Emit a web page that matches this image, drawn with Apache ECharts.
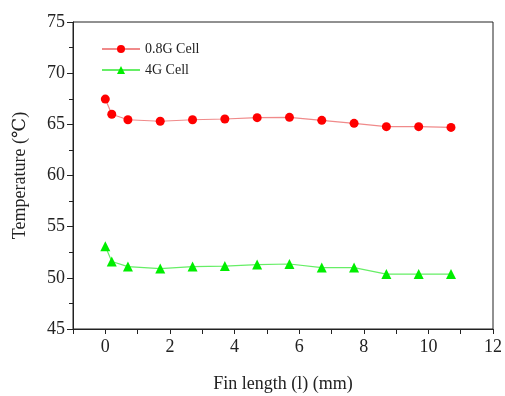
<!DOCTYPE html>
<html>
<head>
<meta charset="utf-8">
<script src="https://cdn.jsdelivr.net/npm/echarts@6/dist/echarts.min.js"></script>
<style>
  html, body { margin: 0; padding: 0; background: #fff; }
  #chart { width: 505px; height: 396px; }
</style>
</head>
<body>
<div id="chart"></div>
<script>
  const finLength = [0, 0.2, 0.7, 1.7, 2.7, 3.7, 4.7, 5.7, 6.7, 7.7, 8.7, 9.7, 10.7];
  const cell08G = [67.47, 65.98, 65.45, 65.3, 65.45, 65.52, 65.65, 65.68, 65.39, 65.1, 64.77, 64.77, 64.7];
  const cell4G = [53.08, 51.6, 51.1, 50.9, 51.1, 51.15, 51.3, 51.35, 51.0, 51.0, 50.37, 50.37, 50.37];
  const xLabels = [0, 2, 4, 6, 8, 10, 12];

  const pairs = (ys) => finLength.map((x, i) => [x, ys[i]]);
  const font = "'Liberation Serif', 'DejaVu Serif', serif";

  const chart = echarts.init(document.getElementById("chart"));

  const option = {
    backgroundColor: "#fff",
    animation: false,
    grid: {
      left: 73,
      right: 12,
      top: 22,
      bottom: 67,
      outerBoundsMode: "none",
      show: true,
      borderColor: "#222",
      borderWidth: 1,
    },
    legend: {
      orient: "vertical",
      left: 96,
      top: 37,
      itemWidth: 38,
      itemHeight: 10,
      itemGap: 7,
      textStyle: { fontFamily: font, fontSize: 14, color: "#222" },
      data: ["0.8G Cell", "4G Cell"],
    },
    xAxis: {
      type: "value",
      min: -1,
      max: 12,
      interval: 1,
      name: "Fin length (l) (mm)",
      nameLocation: "middle",
      nameGap: 46,
      nameTextStyle: { fontFamily: font, fontSize: 18, color: "#222" },
      axisLine: { show: true, onZero: false, lineStyle: { color: "#222", width: 1 } },
      axisTick: { show: true, inside: false, length: 5, lineStyle: { color: "#222" } },
      axisLabel: {
        fontFamily: font,
        fontSize: 18,
        color: "#222",
        margin: 9,
        formatter: (v) => (xLabels.includes(v) ? String(v) : ""),
      },
      splitLine: { show: false },
    },
    yAxis: {
      type: "value",
      min: 45,
      max: 75,
      interval: 5,
      name: "Temperature (℃)",
      nameLocation: "middle",
      nameGap: 44,
      nameTextStyle: { fontFamily: font, fontSize: 18, color: "#222" },
      axisLine: { show: true, onZero: false, lineStyle: { color: "#222", width: 1 } },
      axisTick: { show: true, inside: false, length: 6, lineStyle: { color: "#222" } },
      minorTick: { show: true, splitNumber: 2, length: 4, lineStyle: { color: "#222" } },
      axisLabel: { fontFamily: font, fontSize: 18, color: "#222", margin: 8 },
      splitLine: { show: false },
    },
    series: [
      {
        name: "0.8G Cell",
        type: "line",
        data: pairs(cell08G),
        symbol: "circle",
        symbolSize: 9,
        lineStyle: { color: "#f08a8a", width: 1.2 },
        itemStyle: { color: "#ff0000" },
      },
      {
        name: "4G Cell",
        type: "line",
        data: pairs(cell4G),
        symbol: "triangle",
        symbolSize: 10,
        lineStyle: { color: "#66ee66", width: 1.2 },
        itemStyle: { color: "#00ee00" },
      },
    ],
  };

  chart.setOption(option);
</script>
</body>
</html>
